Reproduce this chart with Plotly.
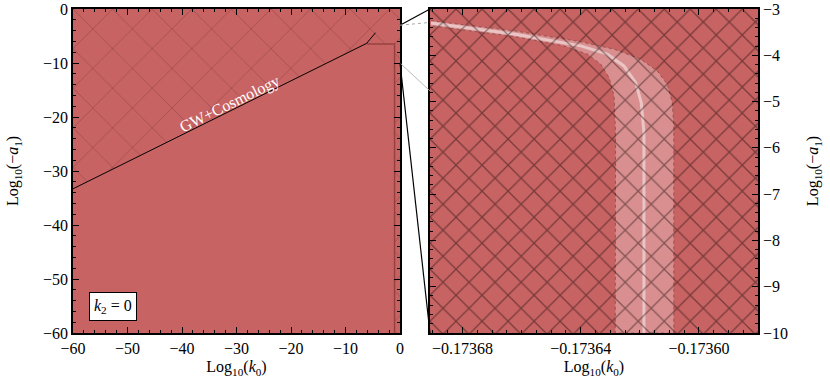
import plotly.graph_objects as go

# ---- left panel: GW+Cosmology bound (log10 k0 vs log10(-a1))
gw_k0 = [-60, -30, -10, -7.0, -6.4, -6.1, -5.5, -4.9, -4.5]
gw_a1 = [-33.3, -18.3, -8.3, -6.8, -6.55, -6.35, -5.6, -4.8, -4.4]

# rest of the excluded (hatched) region boundary, after the GW line
excl_k0 = [-6.1, -1.0, -1.0, 0, 0, -60]
excl_a1 = [-6.5, -6.5, -60, -60, 0, 0]

# ---- right panel (zoom): allowed band around the curve
band_hi_k0 = [-0.1736907, -0.1736626, -0.17364, -0.1736287, -0.1736197, -0.1736141,
              -0.1736107, -0.173609, -0.1736085, -0.1736085]
band_hi_a1 = [-3.254, -3.471, -3.709, -3.868, -4.085, -4.338, -4.627, -5.024, -5.531, -10]
band_lo_k0 = [-0.1736907, -0.1736626, -0.1736457, -0.1736377, -0.1736332, -0.1736304,
              -0.1736287, -0.1736282, -0.1736283]
band_lo_a1 = [-3.362, -3.592, -3.796, -3.976, -4.193, -4.482, -4.881, -5.675, -10]
mid_k0 = [-0.1736907, -0.1736626, -0.17364, -0.173631, -0.1736254, -0.1736214,
          -0.1736195, -0.1736186, -0.1736186]
mid_a1 = [-3.304, -3.542, -3.796, -3.976, -4.230, -4.590, -5.024, -5.675, -10]

left_xrange = [-60, 0]
left_yrange = [-60, 0]
right_xrange = [-0.173691, -0.17358]
right_yrange = [-10, -3]

right_xticks = [-0.17368, -0.17364, -0.17360]
right_xtext = ["−0.17368", "−0.17364", "−0.17360"]

red = "rgb(200,99,99)"
font = "Liberation Serif"

fig = go.Figure()

# left panel
fig.add_trace(go.Scatter(
    x=gw_k0[:6] + excl_k0, y=gw_a1[:6] + excl_a1, fill="toself", mode="none",
    fillcolor="rgba(0,0,0,0)",
    fillpattern=dict(shape="x", size=28, solidity=0.06,
                     fgcolor="rgba(60,20,20,0.55)", bgcolor="rgba(0,0,0,0)"),
    xaxis="x", yaxis="y", hoverinfo="skip"))
fig.add_trace(go.Scatter(
    x=excl_k0[:3], y=excl_a1[:3], mode="lines",
    line=dict(color="rgb(150,65,65)", width=1.5), xaxis="x", yaxis="y"))
fig.add_trace(go.Scatter(
    x=gw_k0, y=gw_a1, mode="lines", line=dict(color="black", width=1),
    xaxis="x", yaxis="y"))

# right panel
fig.add_trace(go.Scatter(
    x=band_hi_k0 + band_lo_k0[::-1], y=band_hi_a1 + band_lo_a1[::-1],
    fill="toself", fillcolor="rgb(217,143,143)", mode="lines",
    line=dict(color="rgba(110,50,50,0.7)", width=0.8, dash="dot"),
    xaxis="x2", yaxis="y2", hoverinfo="skip"))
fig.add_trace(go.Scatter(
    x=mid_k0, y=mid_a1, mode="lines",
    line=dict(color="rgba(240,215,215,0.75)", width=3),
    xaxis="x2", yaxis="y2"))
fig.add_trace(go.Scatter(
    x=[right_xrange[0], right_xrange[1], right_xrange[1], right_xrange[0]],
    y=[right_yrange[0], right_yrange[0], right_yrange[1], right_yrange[1]],
    fill="toself", mode="none", fillcolor="rgba(0,0,0,0)",
    fillpattern=dict(shape="x", size=18.4, solidity=0.13,
                     fgcolor="rgba(20,5,5,0.9)", bgcolor="rgba(0,0,0,0)"),
    xaxis="x2", yaxis="y2", hoverinfo="skip"))

axis_style = dict(showline=True, linecolor="black", linewidth=1.5, mirror="allticks",
                  ticks="inside", ticklen=6, tickwidth=1.2, tickcolor="black",
                  showgrid=False, zeroline=False, automargin=False,
                  tickfont=dict(family=font, size=16, color="black"))
xtitle = dict(text="Log<sub>10</sub>(<i>k</i><sub>0</sub>)",
              font=dict(family=font, size=16, color="black"), standoff=5)
ytitle = dict(text="Log<sub>10</sub>(−<i>a</i><sub>1</sub>)",
              font=dict(family=font, size=16, color="black"))

W, H = 685, 324
dl = [0, 327 / W]
dr = [357 / W, 1]

fig.update_layout(
    width=830, height=383, margin=dict(l=73, r=72, t=9, b=50),
    paper_bgcolor="white", plot_bgcolor=red, showlegend=False,
    xaxis=dict(axis_style, domain=dl, range=left_xrange, dtick=10, tick0=0,
               minor=dict(ticks="inside", ticklen=3, dtick=2, tickcolor="black"),
               title=xtitle, anchor="y"),
    yaxis=dict(axis_style, domain=[0, 1], range=left_yrange, dtick=10, tick0=0,
               minor=dict(ticks="inside", ticklen=3, dtick=2, tickcolor="black"),
               title=dict(ytitle, standoff=20), anchor="x"),
    xaxis2=dict(axis_style, domain=dr, range=right_xrange, tickvals=right_xticks,
                ticktext=right_xtext,
                minor=dict(ticks="inside", ticklen=3, dtick=5e-6, tick0=-0.17368,
                           tickcolor="black"),
                title=xtitle, anchor="y2"),
    yaxis2=dict(axis_style, domain=[0, 1], range=right_yrange, dtick=1, tick0=0,
                side="right",
                minor=dict(ticks="inside", ticklen=3, dtick=0.2, tickcolor="black"),
                title=dict(ytitle, standoff=20), anchor="x2"),
)


def lp(xv, yv):
    # left-panel data -> paper
    px = dl[0] + (xv - left_xrange[0]) / (left_xrange[1] - left_xrange[0]) * (dl[1] - dl[0])
    py = (yv - left_yrange[0]) / (left_yrange[1] - left_yrange[0])
    return px, py


def rp(yv):
    return (yv - right_yrange[0]) / (right_yrange[1] - right_yrange[0])


a = lp(0, -3)
b = lp(0, -10)
for (x0, y0), (x1, y1), col, dash, w in [
    (a, (dr[0], 1), "black", "solid", 1.2),
    (a, (dr[0], rp(-3.29)), "rgb(170,170,170)", "dot", 1),
    (b, (dr[0], rp(-4.77)), "rgb(170,170,170)", "solid", 0.8),
    (b, (dr[0], 0), "black", "solid", 1.2),
]:
    fig.add_shape(type="line", xref="paper", yref="paper", x0=x0, y0=y0, x1=x1, y1=y1,
                  line=dict(color=col, width=w, dash=dash), layer="above")

fig.add_annotation(x=-31.2, y=-17.6, xref="x", yref="y", text="GW+Cosmology",
                   textangle=-26.3, showarrow=False,
                   font=dict(family=font, size=16, color="white"))
fig.add_annotation(x=-52.7, y=-55.1, xref="x", yref="y", text="<i>k</i><sub>2</sub> = 0",
                   showarrow=False, bgcolor="white", bordercolor="black", borderwidth=1,
                   borderpad=4, font=dict(family=font, size=16, color="black"))

# drop the default 8px page margin so the figure fills the window
fig.write_html("out.html", config={"displayModeBar": False},
               post_script="document.body.style.margin='0';")
